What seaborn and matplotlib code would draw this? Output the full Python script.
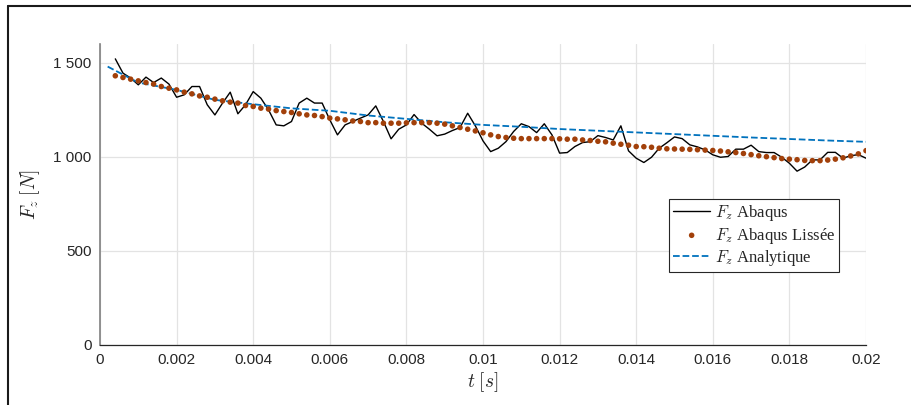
import numpy as np
import pandas as pd
import matplotlib
matplotlib.use("Agg")
import matplotlib.pyplot as plt
import seaborn as sns
from matplotlib.lines import Line2D

# Temps d'échantillonnage (pas de 0.2 ms)
t = np.linspace(0.0004, 0.02, 99)

# Effort Fz brut Abaqus [N]
fz_abaqus = [
    1521, 1445, 1419, 1383, 1424, 1395, 1419, 1387, 1317, 1330,
    1374, 1374, 1277, 1223, 1286, 1344, 1229, 1277, 1347, 1312,
    1250, 1170, 1165, 1188, 1286, 1312, 1286, 1286, 1197, 1117,
    1170, 1188, 1206, 1223,
    1271, 1188, 1096, 1147, 1170, 1225, 1179, 1147, 1112, 1121,
    1140, 1156, 1232, 1165, 1085, 1028, 1046, 1081, 1135, 1176,
    1161, 1129, 1176, 1117, 1020, 1023, 1055, 1076, 1081, 1113,
    1103, 1090, 1165, 1032,
    993, 970, 998, 1046, 1075, 1106, 1097, 1064, 1053, 1037,
    1011, 998, 1002, 1041, 1041, 1062, 1028, 1023, 1023, 998,
    966, 924, 946, 984, 984, 1024, 1024, 993, 1006, 1012,
    993,
]

# Effort Fz lissé [N]
fz_lisse = [
    1431, 1422, 1413, 1404, 1395, 1387, 1374, 1365, 1356, 1344,
    1335, 1324, 1317, 1307, 1298, 1291, 1286, 1273, 1268, 1259,
    1254, 1246, 1241, 1236, 1229, 1223, 1220, 1214, 1206, 1202,
    1197, 1191, 1188, 1182,
    1182, 1179, 1179, 1179, 1181, 1182, 1182, 1182, 1179, 1174,
    1165, 1156, 1147, 1138, 1128, 1117, 1108, 1103, 1099, 1097,
    1097, 1097, 1097, 1097, 1096, 1094, 1094, 1090, 1087, 1083,
    1080, 1073, 1067, 1062,
    1055, 1054, 1051, 1046, 1043, 1042, 1041, 1040, 1038, 1036,
    1034, 1031, 1027, 1023, 1018, 1012, 1006, 1001, 996, 991,
    988, 985, 981, 980, 980, 983, 988, 995, 1005, 1016,
    1033,
]

# Solution analytique [N]
t_ana = [0.0002, 0.001, 0.002, 0.003, 0.004, 0.005, 0.006, 0.007, 0.008, 0.009,
         0.010, 0.011, 0.012, 0.013, 0.014, 0.015, 0.016, 0.017, 0.018, 0.019, 0.020]
fz_ana = [1480, 1395, 1356, 1303, 1280, 1258, 1245, 1220, 1202, 1184,
          1170, 1160, 1148, 1139, 1130, 1121, 1112, 1103, 1095, 1087, 1080]

x_ticks = [0, 0.002, 0.004, 0.006, 0.008, 0.01, 0.012, 0.014, 0.016, 0.018, 0.02]
x_labels = ["0", "0.002", "0.004", "0.006", "0.008", "0.01", "0.012", "0.014", "0.016", "0.018", "0.02"]
y_ticks = [0, 500, 1000, 1500]
y_labels = ["0", "500", "1 000", "1 500"]

df = pd.DataFrame({"t": t, "brut": fz_abaqus, "lisse": fz_lisse})
df_ana = pd.DataFrame({"t": t_ana, "fz": fz_ana})

sns.set_style("whitegrid")
plt.rcParams["font.family"] = ["Liberation Sans", "DejaVu Sans"]
plt.rcParams["mathtext.fontset"] = "cm"

fig = plt.figure(figsize=(9.12, 4.05), dpi=100)
ax = fig.add_axes([100 / 912, 1 - 345 / 405, 766 / 912, 301 / 405])

sns.lineplot(data=df, x="t", y="brut", ax=ax, color="black", linewidth=1.0,
             label=r"$F_z$ Abaqus")
sns.scatterplot(data=df, x="t", y="lisse", ax=ax, color="#A2400A", s=16,
                edgecolor="none", label=r"$F_z$ Abaqus Lissée", zorder=3)
sns.lineplot(data=df_ana, x="t", y="fz", ax=ax, color="#0072BD", linewidth=1.3,
             linestyle="--", label=r"$F_z$ Analytique")

ax.set_xlim(0, 0.02)
ax.set_ylim(0, 1600)
ax.set_xticks(x_ticks)
ax.set_xticklabels(x_labels)
ax.set_yticks(y_ticks)
ax.set_yticklabels(y_labels)
ax.tick_params(direction="in", length=5, width=0.8, colors="#262626",
               labelsize=11, pad=6)
ax.grid(True, color="#E3E3E3", linewidth=0.9)

for side in ["top", "right"]:
    ax.spines[side].set_visible(False)
ax.spines["left"].set_color("#808080")
ax.spines["left"].set_linewidth(1.2)
ax.spines["bottom"].set_color("#262626")
ax.spines["bottom"].set_linewidth(0.9)

ax.set_xlabel(r"$t\;[s]$", fontsize=14, color="#262626", labelpad=2)
ax.set_ylabel(r"$F_z\;[N]$", fontsize=14, color="#262626", labelpad=8)

leg = ax.legend(loc="upper left", bbox_to_anchor=(0.743, 0.485),
                prop={"family": "Liberation Serif", "size": 12},
                frameon=True, fancybox=False, edgecolor="#262626",
                framealpha=1, borderpad=0.25, handlelength=2.2,
                handletextpad=0.3, labelspacing=0.15, borderaxespad=0)
leg.get_frame().set_linewidth(0.8)

# Cadre de la figure
fig.add_artist(Line2D([8 / 912, 1], [1 - 6 / 405, 1 - 6 / 405], color="#1a1a1a", lw=1.5))
fig.add_artist(Line2D([8 / 912, 8 / 912], [0, 1 - 6 / 405], color="#1a1a1a", lw=1.5))

fig.savefig("out.png", dpi=100)
